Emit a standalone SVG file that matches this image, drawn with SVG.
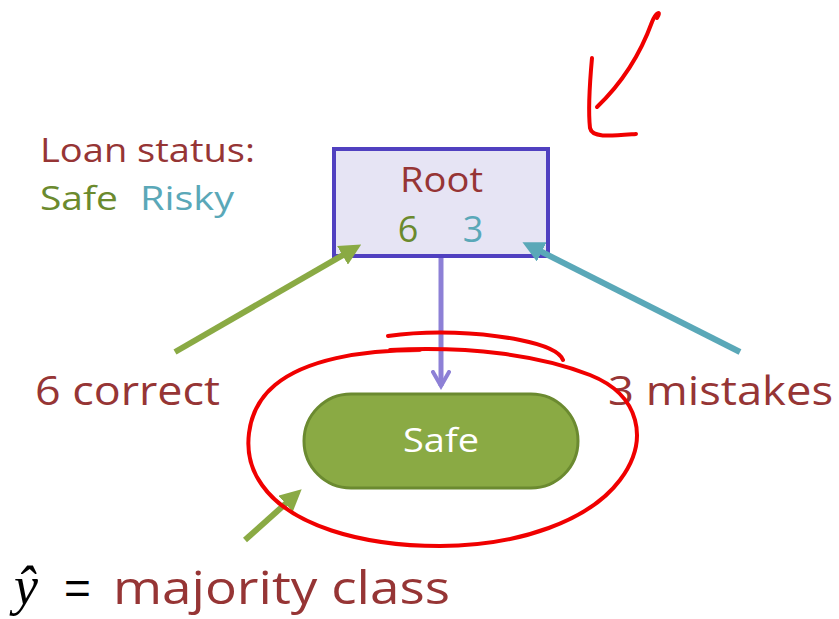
<svg xmlns="http://www.w3.org/2000/svg" width="839" height="619" viewBox="0 0 839 619">
<style>
.t{font-family:"Open Sans",Lato,"Liberation Sans",sans-serif}
.red{fill:#963535}
.grn{fill:#6b8a2e}
.teal{fill:#5aa8b8}
.ink{fill:none;stroke:#f00000;stroke-width:4;stroke-linecap:round;stroke-linejoin:round}
</style>
<defs>
<marker id="ag" viewBox="0 0 10 10" refX="4" refY="5" markerWidth="3.6" markerHeight="3.6" orient="auto" markerUnits="strokeWidth"><path d="M0,0 L10,5 L0,10 z" fill="#8aaa44"/></marker>
<marker id="at" viewBox="0 0 10 10" refX="4" refY="5" markerWidth="3.6" markerHeight="3.6" orient="auto" markerUnits="strokeWidth"><path d="M0,0 L10,5 L0,10 z" fill="#5aa8b8"/></marker>
<marker id="ap" viewBox="0 0 10 10" refX="8" refY="5" markerWidth="4" markerHeight="4" orient="auto" markerUnits="strokeWidth"><path d="M1,1 L8,5 L1,9" fill="none" stroke="#8d80d6" stroke-width="2" stroke-linecap="round"/></marker>
</defs>
<rect width="839" height="619" fill="#fff"/>
<g id="legend">
<text class="t red" x="40" y="162" font-size="32" textLength="215" lengthAdjust="spacingAndGlyphs">Loan status:</text>
<text class="t grn" x="40" y="210" font-size="32" textLength="78" lengthAdjust="spacingAndGlyphs">Safe</text>
<text class="t teal" x="140" y="210" font-size="32" textLength="94" lengthAdjust="spacingAndGlyphs">Risky</text>
</g>
<g id="root">
<rect x="334" y="149" width="214" height="107" fill="#e6e4f4" stroke="#5040c0" stroke-width="4"/>
<text class="t red" x="400" y="192" font-size="34" textLength="83" lengthAdjust="spacingAndGlyphs">Root</text>
<text class="t grn" x="408" y="242" font-size="36" text-anchor="middle">6</text>
<text class="t teal" x="473" y="242" font-size="36" text-anchor="middle">3</text>
</g>
<g id="leaf">
<rect x="304" y="394" width="274" height="94" rx="47" fill="#8aaa44" stroke="#6b8a30" stroke-width="3"/>
<text class="t" x="403" y="452" font-size="32" fill="#fff" textLength="76" lengthAdjust="spacingAndGlyphs">Safe</text>
</g>
<g id="connectors">
<line x1="441" y1="258" x2="441" y2="386" stroke="#8d80d6" stroke-width="5" marker-end="url(#ap)"/>
<line x1="175" y1="352" x2="350" y2="251" stroke="#8aaa44" stroke-width="6" marker-end="url(#ag)"/>
<line x1="740" y1="352" x2="534" y2="248" stroke="#5aa8b8" stroke-width="6" marker-end="url(#at)"/>
<line x1="245" y1="540" x2="292" y2="498" stroke="#8aaa44" stroke-width="6" marker-end="url(#ag)"/>
</g>
<g id="labels">
<text class="t red" x="35" y="405" font-size="40" textLength="185" lengthAdjust="spacingAndGlyphs">6 correct</text>
<text class="t red" x="608" y="405" font-size="40" textLength="225" lengthAdjust="spacingAndGlyphs">3 mistakes</text>
<text x="14" y="604" font-size="54" font-family="'Liberation Serif',serif" font-style="italic">ŷ</text>
<text x="64" y="604" font-size="46" font-family="'Liberation Sans',sans-serif">=</text>
<text class="t red" x="113" y="604" font-size="46" textLength="337" lengthAdjust="spacingAndGlyphs">majority class</text>
</g>
<g id="ink">
<path class="ink" d="M388,336 C430,330 480,332 520,340 C545,345 560,352 563,360"/>
<path class="ink" d="M390,350 C470,346 540,355 590,375 C640,395 650,440 620,480 C590,520 520,546 440,546 C360,546 290,525 262,485 C240,455 245,410 275,385 C305,360 360,350 420,350"/>
<path class="ink" d="M657,18 C662,10 656,12 652,22 C640,55 620,85 597,107"/>
<path class="ink" d="M592,58 C590,80 588,110 590,128 C592,138 610,136 636,134"/>
</g>
</svg>
